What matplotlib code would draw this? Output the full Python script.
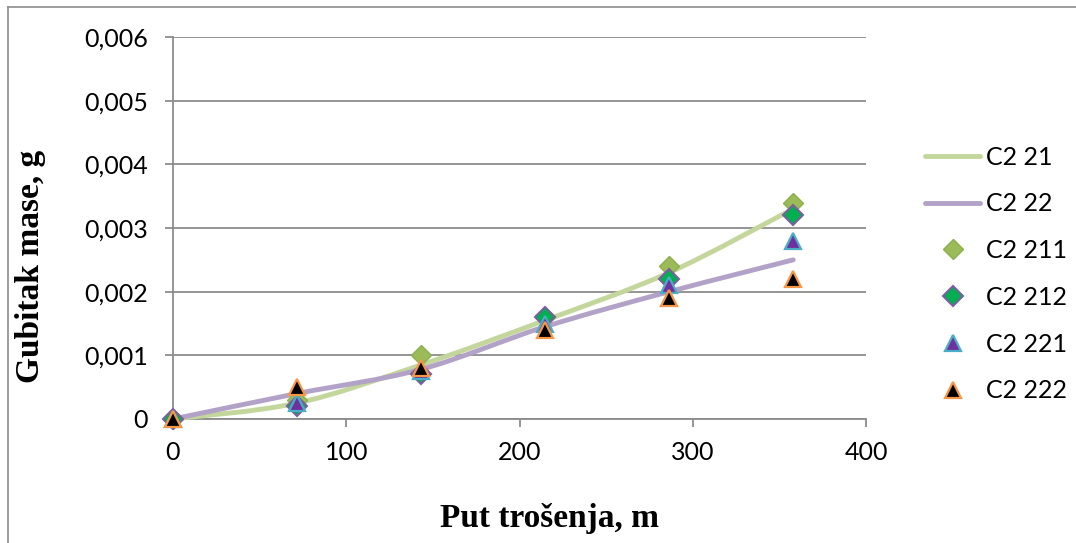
import matplotlib
matplotlib.use("Agg")
import matplotlib.pyplot as plt
from matplotlib.path import Path
from matplotlib.patches import PathPatch
from matplotlib.lines import Line2D
import numpy as np

# ---- data ----
put = [0, 71.6, 143.2, 214.8, 286.4, 358]
c2_21 = [0, 0.00025, 0.00085, 0.00155, 0.0023, 0.0033]
c2_22 = [0, 0.0004, 0.00078, 0.00145, 0.0020, 0.0025]
c2_211 = [0, 0.0003, 0.0010, 0.0016, 0.0024, 0.0034]
c2_212 = [0, 0.0002, 0.0007, 0.0016, 0.0022, 0.0032]
c2_221 = [0, 0.00025, 0.00075, 0.0015, 0.0021, 0.0028]
c2_222 = [0, 0.0005, 0.0008, 0.0014, 0.0019, 0.0022]
y_ticks = [0, 0.001, 0.002, 0.003, 0.004, 0.005, 0.006]
y_tick_labels = ["0", "0,001", "0,002", "0,003", "0,004", "0,005", "0,006"]
x_ticks = [0, 100, 200, 300, 400]

TICK_FONT = "Lato"
TITLE_FONT = "Liberation Serif"
FS = 18

fig = plt.figure(figsize=(10.76, 5.43), dpi=100)
ax = fig.add_axes([173/1076, 1-419/543, (866-173)/1076, (419-37)/543])

def smooth_path(xs, ys):
    xs = np.asarray(xs, float); ys = np.asarray(ys, float)
    n = len(xs)
    verts = [(xs[0], ys[0])]
    codes = [Path.MOVETO]
    for i in range(n-1):
        p0 = np.array([xs[max(i-1, 0)], ys[max(i-1, 0)]])
        p1 = np.array([xs[i], ys[i]])
        p2 = np.array([xs[i+1], ys[i+1]])
        p3 = np.array([xs[min(i+2, n-1)], ys[min(i+2, n-1)]])
        c1 = p1 + (p2 - p0) / 6.0
        c2 = p2 - (p3 - p1) / 6.0
        verts += [tuple(c1), tuple(c2), tuple(p2)]
        codes += [Path.CURVE4] * 3
    return Path(verts, codes)

green_line = "#C3D69B"
purple_line = "#B3A2C7"
LW = 3.5
for ys, col in [(c2_21, green_line), (c2_22, purple_line)]:
    ax.add_patch(PathPatch(smooth_path(put, ys), facecolor="none", edgecolor=col,
                           lw=LW, capstyle="round", zorder=3, clip_on=False))

ms = 12
styles = [
    dict(marker="D", ms=ms*0.82, mfc="#9BBB59", mec="#8DB04E", mew=1),
    dict(marker="D", ms=ms*0.82, mfc="#00B050", mec="#7A5EA0", mew=1.5),
    dict(marker="^", ms=ms, mfc="#7030A0", mec="#4BACC6", mew=1.6),
    dict(marker="^", ms=ms, mfc="#000000", mec="#F79646", mew=1.6),
]
for z, (ys, st) in enumerate(zip([c2_211, c2_212, c2_221, c2_222], styles)):
    ax.plot(put, ys, ls="none", zorder=4 + z, clip_on=False, **st)

ax.set_xlim(0, 400)
ax.set_ylim(0, 0.006)
ax.set_yticks(y_ticks)
ax.set_yticklabels(y_tick_labels)
ax.set_xticks(x_ticks)
ax.grid(axis="y", color="#8C8C8C", lw=1.3, zorder=1)
for s in ["top", "right"]:
    ax.spines[s].set_visible(False)
for s in ["left", "bottom"]:
    ax.spines[s].set_color("#8C8C8C")
    ax.spines[s].set_linewidth(1.3)
ax.tick_params(axis="both", colors="#8C8C8C", length=6, width=1.3, labelcolor="black",
               labelsize=FS)
ax.tick_params(axis="y", pad=12)
ax.tick_params(axis="x", pad=10)
for lab in ax.get_xticklabels() + ax.get_yticklabels():
    lab.set_fontfamily(TICK_FONT)
ax.set_axisbelow(True)

fig.text(0.5 * (438 + 660) / 1076, 1 - 518/543, "Put trošenja, m", ha="center", va="center",
         fontfamily=TITLE_FONT, fontweight="bold", fontsize=24)
fig.text(31/1076, 1 - 266/543, "Gubitak mase, g", ha="center", va="center", rotation=90,
         fontfamily=TITLE_FONT, fontweight="bold", fontsize=24)

handles = [
    Line2D([], [], color=green_line, lw=LW, solid_capstyle="round"),
    Line2D([], [], color=purple_line, lw=LW, solid_capstyle="round"),
] + [Line2D([], [], ls="none", **st) for st in styles]
labels = ["C2 21", "C2 22", "C2 211", "C2 212", "C2 221", "C2 222"]
leg = fig.legend(handles, labels, loc="center left", bbox_to_anchor=(925/1076, 1 - 274/543),
                 frameon=False, prop={"family": TICK_FONT, "size": FS}, handlelength=2.2,
                 labelspacing=0.95, handletextpad=0.25, borderpad=0, borderaxespad=0)

# outer chart border (left and top)
fig.add_artist(Line2D([8/1076, 8/1076], [0, 1 - 7/543], transform=fig.transFigure, color="#8C8C8C", lw=1.2))
fig.add_artist(Line2D([8/1076, 1], [1 - 7/543, 1 - 7/543], transform=fig.transFigure, color="#8C8C8C", lw=1.2))

fig.savefig("out.png", dpi=100)
